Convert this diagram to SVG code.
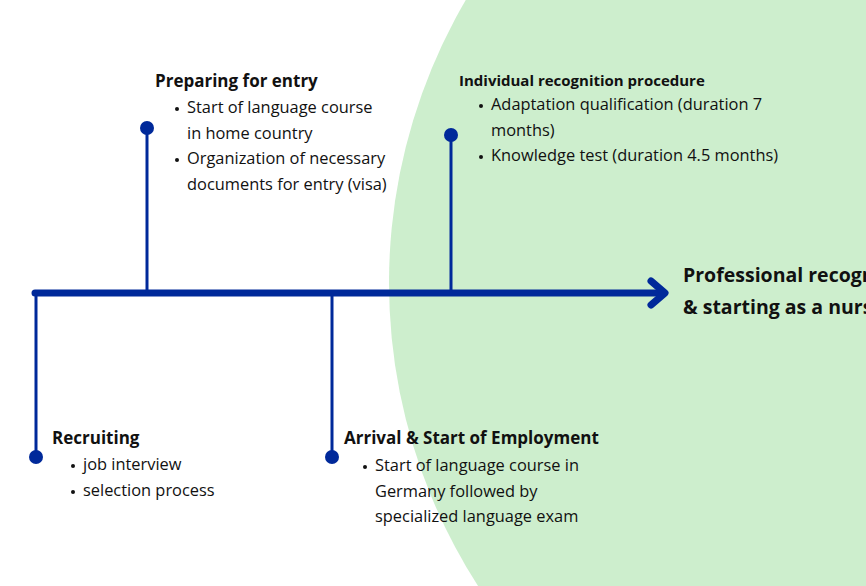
<svg xmlns="http://www.w3.org/2000/svg" width="866" height="586" viewBox="0 0 866 586">
<style>
.bg{fill:#cdeecd}
.ax{stroke:#00299a;fill:none;stroke-linecap:round;stroke-linejoin:round}
.stem{stroke:#00299a;stroke-width:3;fill:none}
.dot{fill:#00299a}
text{font-family:"Open Sans","Noto Sans",sans-serif;fill:#111}
.h{font-weight:700;font-size:17px}
.hs{font-weight:700;font-size:15px}
.b{font-size:16.4px}
.big{font-weight:700;font-size:19.5px}
</style>
<rect width="866" height="586" fill="#fff"/>
<circle class="bg" cx="949" cy="283" r="560"/>
<g id="connectors">
<line class="ax" x1="35" y1="293" x2="664" y2="293" stroke-width="7"/>
<polyline class="ax" points="651,281 665,293 651,305" stroke-width="7"/>
<line class="stem" x1="147" y1="128" x2="147" y2="293"/>
<line class="stem" x1="451" y1="135" x2="451" y2="293"/>
<line class="stem" x1="36" y1="293" x2="36" y2="457"/>
<line class="stem" x1="332" y1="293" x2="332" y2="457"/>
</g>
<g id="preparing">
<circle class="dot" cx="147" cy="128" r="7"/>
<text class="h" x="155" y="87">Preparing for entry</text>
<circle cx="177" cy="109" r="2" fill="#111"/>
<text class="b" x="187" y="113">Start of language course</text>
<text class="b" x="187" y="139">in home country</text>
<circle cx="177" cy="160" r="2" fill="#111"/>
<text class="b" x="187" y="164">Organization of necessary</text>
<text class="b" x="187" y="190">documents for entry (visa)</text>
</g>
<g id="recognition">
<circle class="dot" cx="451" cy="135" r="7"/>
<text class="hs" x="459" y="86">Individual recognition procedure</text>
<circle cx="481" cy="106" r="2" fill="#111"/>
<text class="b" x="491" y="110">Adaptation qualification (duration 7</text>
<text class="b" x="491" y="136">months)</text>
<circle cx="481" cy="157" r="2" fill="#111"/>
<text class="b" x="491" y="161">Knowledge test (duration 4.5 months)</text>
</g>
<g id="goal">
<text class="big" x="683" y="282">Professional recognition</text>
<text class="big" x="683" y="314">&amp; starting as a nurse</text>
</g>
<g id="recruiting">
<circle class="dot" cx="36" cy="457" r="7"/>
<text class="h" x="52" y="444">Recruiting</text>
<circle cx="73" cy="466" r="2" fill="#111"/>
<text class="b" x="83" y="470">job interview</text>
<circle cx="73" cy="492" r="2" fill="#111"/>
<text class="b" x="83" y="496">selection process</text>
</g>
<g id="arrival">
<circle class="dot" cx="332" cy="457" r="7"/>
<text class="h" x="344" y="444">Arrival &amp; Start of Employment</text>
<circle cx="365" cy="467" r="2" fill="#111"/>
<text class="b" x="375" y="471">Start of language course in</text>
<text class="b" x="375" y="497">Germany followed by</text>
<text class="b" x="375" y="522">specialized language exam</text>
</g>
</svg>
